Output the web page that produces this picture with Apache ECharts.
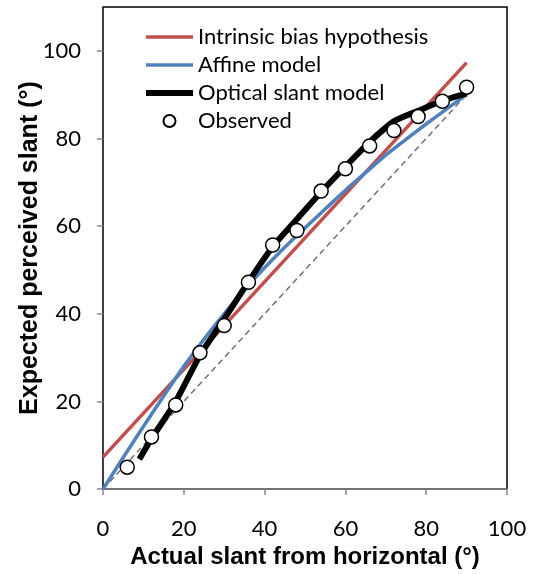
<!DOCTYPE html>
<html>
<head>
<meta charset="utf-8">
<script src="https://cdn.jsdelivr.net/npm/echarts@6/dist/echarts.min.js"></script>
<style>
html,body{margin:0;padding:0;background:#fff;}
#chart{width:533px;height:574px;}
</style>
</head>
<body>
<div id="chart"></div>
<script>
// ---- data ----
const xTicks = [0, 20, 40, 60, 80, 100];
const yTicks = [0, 20, 40, 60, 80, 100];

const identityX = [0, 90];
const identityY = [0, 90];

const intrinsicX = [0, 90];
const intrinsicY = [7.3, 97.3];

const affineX = [0, 5, 10, 15, 20, 25, 30, 35, 40, 45, 50, 55, 60, 65, 70, 75, 80, 85, 90];
const affineY = [0, 7.2, 14.3, 21.2, 28.0, 34.2, 40.0, 45.5, 50.5, 55.2, 59.6, 63.9, 68.2, 72.2, 76.2, 79.8, 83.3, 86.7, 90.0];

const opticalX = [9, 12, 18, 24, 30, 36, 42, 48, 54, 60, 66, 72, 78, 84, 90];
const opticalY = [6.8, 11.5, 20.0, 30.5, 38.8, 47.3, 55.3, 61.6, 67.8, 73.6, 79.2, 83.9, 86.3, 88.6, 90.3];

const observedX = [6, 12, 18, 24, 30, 36, 42, 48, 54, 60, 66, 72, 78, 84, 90];
const observedY = [5.0, 11.9, 19.2, 31.1, 37.3, 47.2, 55.7, 59.0, 68.0, 73.1, 78.3, 81.8, 85.0, 88.5, 91.7];

const names = ['Intrinsic bias hypothesis', 'Affine model', 'Optical slant model', 'Observed'];

const zip = (xs, ys) => xs.map((x, i) => [x, ys[i]]);

const labelFont = 'Lato, "Open Sans", sans-serif';
const titleFont = '"Liberation Sans", Arial, sans-serif';

const chart = echarts.init(document.getElementById('chart'), null, {renderer: 'canvas'});
chart.setOption({
  animation: false,
  backgroundColor: '#ffffff',
  grid: {
    left: 103, right: 26, top: 7, bottom: 80,
    show: true, borderColor: '#000000', borderWidth: 1.5, backgroundColor: 'transparent'
  },
  legend: {
    data: [
      {name: names[0], itemStyle: {opacity: 0}, lineStyle: {width: 3.5}},
      {name: names[1], itemStyle: {opacity: 0}, lineStyle: {width: 3.5}},
      {name: names[2], itemStyle: {opacity: 0}, lineStyle: {width: 6}},
      {name: names[3]}
    ],
    orient: 'vertical',
    left: 138, top: 21,
    itemWidth: 47, itemHeight: 12, itemGap: 6,
    textStyle: {fontFamily: labelFont, fontSize: 22, color: '#000', lineHeight: 20},
    selectedMode: false
  },
  xAxis: {
    type: 'value', min: 0, max: 100, interval: 20,
    name: 'Actual slant from horizontal (°)',
    nameLocation: 'middle', nameGap: 50,
    nameTextStyle: {fontFamily: titleFont, fontWeight: 'bold', fontSize: 24, color: '#000'},
    axisLine: {show: true, lineStyle: {color: '#868686', width: 1.5}},
    axisTick: {show: true, inside: false, length: 6, lineStyle: {color: '#868686', width: 1.5}, customValues: xTicks},
    axisLabel: {fontFamily: labelFont, fontSize: 22, color: '#000', margin: 29, customValues: xTicks},
    splitLine: {show: false}
  },
  yAxis: {
    type: 'value', min: 0, max: 110, interval: 20,
    name: 'Expected perceived slant (°)',
    nameLocation: 'middle', nameGap: 60, nameMoveOverlap: false,
    nameTextStyle: {fontFamily: titleFont, fontWeight: 'bold', fontSize: 25, color: '#000'},
    axisLine: {show: false},
    axisTick: {show: true, inside: false, length: 6, lineStyle: {color: '#868686', width: 1.5}, customValues: yTicks},
    axisLabel: {fontFamily: labelFont, fontSize: 22, color: '#000', margin: 22, customValues: yTicks},
    splitLine: {show: false}
  },
  series: [
    {
      name: 'identity', type: 'line', data: zip(identityX, identityY),
      symbol: 'none', showSymbol: false, z: 1,
      lineStyle: {color: '#707070', width: 1.5, type: [6, 4]}
    },
    {
      name: names[0], type: 'line', data: zip(intrinsicX, intrinsicY),
      symbol: 'none', showSymbol: false, z: 2,
      itemStyle: {color: '#C0504D'},
      lineStyle: {color: '#C0504D', width: 3.5}
    },
    {
      name: names[1], type: 'line', data: zip(affineX, affineY),
      symbol: 'none', showSymbol: false, smooth: 0.3, z: 3,
      itemStyle: {color: '#4F81BD'},
      lineStyle: {color: '#4F81BD', width: 3.5}
    },
    {
      name: names[2], type: 'line', data: zip(opticalX, opticalY),
      symbol: 'none', showSymbol: false, smooth: 0.25, z: 4,
      itemStyle: {color: '#000000'},
      lineStyle: {color: '#000000', width: 6}
    },
    {
      name: names[3], type: 'scatter', data: zip(observedX, observedY),
      symbol: 'circle', symbolSize: 14, z: 5,
      itemStyle: {color: '#ffffff', borderColor: '#000000', borderWidth: 1.5, opacity: 1}
    }
  ]
});
</script>
</body>
</html>
